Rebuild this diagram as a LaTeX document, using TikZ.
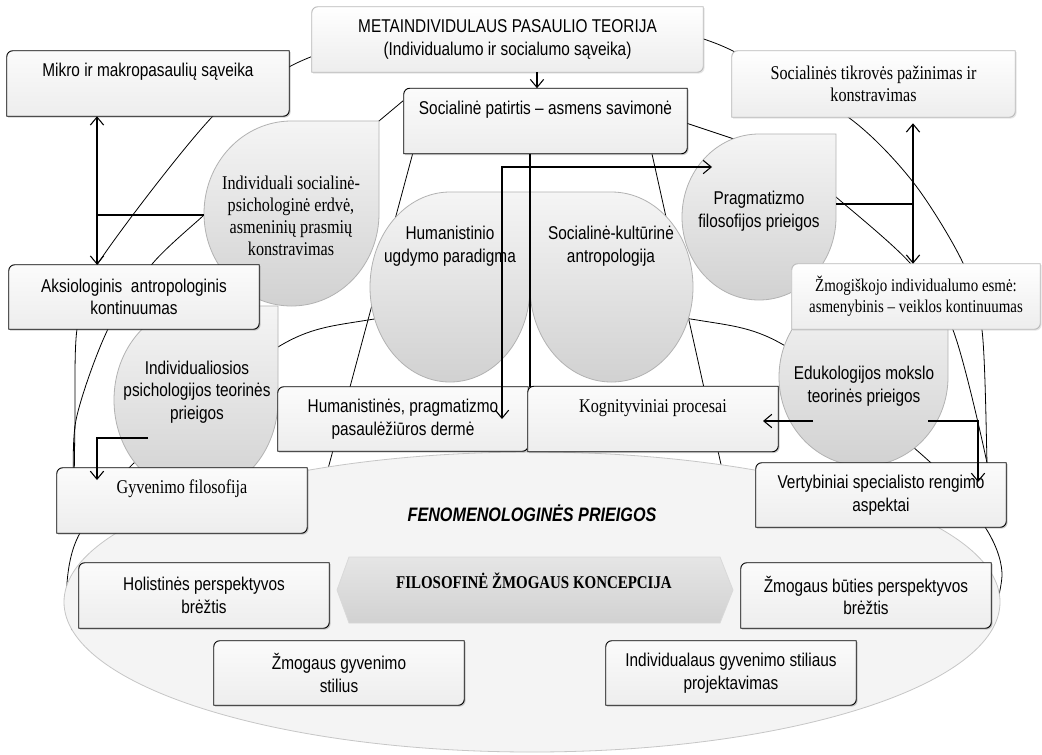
\documentclass[tikz,border=0pt]{standalone}
\usepackage{fontspec}
\usetikzlibrary{arrows.meta,shadows}
\newfontfamily\lsans[FakeStretch=0.83]{Liberation Sans}
\newfontfamily\lserif[FakeStretch=0.83]{Liberation Serif}
\pgfdeclarelayer{arcs}
\pgfdeclarelayer{shapes}
\pgfdeclarelayer{boxes}
\pgfsetlayers{arcs,shapes,boxes,main}

\tikzset{
  sanstext/.style={font=\lsans\fontsize{13.9}{17}\selectfont, align=center},
  seriftext/.style={font=\lserif\fontsize{14.6}{16.5}\selectfont, align=center},
  box/.style={minimum width=187.5pt, minimum height=48.75pt},
  topbox/.style={box, inner ysep=0pt, text height=19pt, text depth=29.75pt},
  dark box/.style={draw=black, line width=0.7pt, top color=gray!3, bottom color=gray!14,
    drop shadow={shadow xshift=1pt, shadow yshift=-1pt, opacity=0.4}},
  light box/.style={draw=gray!55, line width=0.7pt, top color=white, bottom color=gray!14,
    drop shadow={shadow xshift=1pt, shadow yshift=-1pt, opacity=0.2}},
  teardrop/.style={draw=gray!60, line width=0.6pt, top color=gray!8, bottom color=gray!36},
  bgline/.style={line width=0.6pt},
  joinline/.style={line width=0.8pt},
  link/.style={line width=0.8pt, -{Straight Barb[length=6pt,width=10pt]}},
  twoway/.style={line width=0.8pt, {Straight Barb[length=6pt,width=10pt]}-{Straight Barb[length=6pt,width=10pt]}},
}

\begin{document}
\begin{tikzpicture}[x=0.75pt, y=-0.75pt]
\useasboundingbox (0,0) rectangle (1042,754);

% boxes
\node[sanstext, box, minimum width=293.25pt] (teorija) at (507.5,39.5) {METAINDIVIDULAUS PASAULIO TEORIJA\\(Individualumo ir socialumo sąveika)};
\node[sanstext, topbox, minimum width=211.5pt] (mikro) at (148,83.5) {Mikro ir makropasaulių sąveika};
\node[sanstext, topbox, minimum width=212.25pt, text depth=29pt] (patirtis) at (545.5,121) {Socialinė patirtis – asmens savimonė};
\node[seriftext, box, minimum width=212.25pt, minimum height=49.5pt] (tikrove) at (873.5,84) {Socialinės tikrovės pažinimas ir\\konstravimas};
\node[sanstext, box, minimum height=48pt] (aksio) at (134,297) {Aksiologinis\ \ antropologinis\\kontinuumas};
\node[seriftext, box, minimum width=186pt, font=\lserif\fontsize{13.5}{16}\selectfont] (esme) at (916,296.5) {Žmogiškojo individualumo esmė:\\asmenybinis – veiklos kontinuumas};
\node[sanstext, box, minimum height=48pt] (derme) at (403,419) {Humanistinės, pragmatizmo\\pasaulėžiūros dermė};
\node[seriftext, topbox, text depth=29pt] (kognit) at (653,419) {Kognityviniai procesai};
\node[seriftext, topbox] (gyven) at (182,500.5) {Gyvenimo filosofija};
\node[sanstext, box, minimum height=48pt] (vertyb) at (881,495) {Vertybiniai specialisto rengimo\\aspektai};
\node[sanstext, box] (holist) at (204,595.5) {Holistinės perspektyvos\\brėžtis};
\node[sanstext, box] (butis) at (866,595.5) {Žmogaus būties perspektyvos\\brėžtis};
\node[sanstext, box, minimum height=48pt] (stilius) at (339,673) {Žmogaus gyvenimo\\stilius};
\node[sanstext, box, minimum height=48pt] (projekt) at (731,673) {Individualaus gyvenimo stiliaus\\projektavimas};

% texts of the round shapes
\node[seriftext] (erdve) at (291,216) {Individuali socialinė-\\psichologinė erdvė,\\asmeninių prasmių\\konstravimas};
\node[sanstext] (humanist) at (450,246) {Humanistinio\\ugdymo paradigma};
\node[sanstext] (antrop) at (611,246) {Socialinė-kultūrinė\\antropologija};
\node[sanstext] (pragmat) at (759,211) {Pragmatizmo\\filosofijos prieigos};
\node[sanstext] (psichol) at (197,392) {Individualiosios\\psichologijos teorinės\\prieigos};
\node[sanstext] (edukol) at (864,386) {Edukologijos mokslo\\teorinės prieigos};
\node[font=\lsans\bfseries\itshape\fontsize{14.6}{17}\selectfont] (fenomen) at (532,513) {FENOMENOLOGINĖS PRIEIGOS};
\node[font=\lserif\bfseries\fontsize{13.5}{16}\selectfont] (koncepcija) at (534,581) {FILOSOFINĖ ŽMOGAUS KONCEPCIJA};

\begin{pgfonlayer}{boxes}
\foreach \nm in {mikro,patirtis,aksio,derme,kognit,gyven,vertyb,holist,butis,stilius,projekt}
  \draw[dark box] (\nm.west) {[rounded corners=4.5pt] -- (\nm.north west) -- (\nm.north)} -- (\nm.north east) -- (\nm.east) {[rounded corners=4.5pt] -- (\nm.south east) -- (\nm.south)} -- (\nm.south west) -- cycle;
\foreach \nm in {teorija,tikrove,esme}
  \draw[light box] (\nm.west) {[rounded corners=4.5pt] -- (\nm.north west) -- (\nm.north)} -- (\nm.north east) -- (\nm.east) {[rounded corners=4.5pt] -- (\nm.south east) -- (\nm.south)} -- (\nm.south west) -- cycle;
\end{pgfonlayer}

\begin{pgfonlayer}{shapes}
\draw[line width=0.6pt, draw=gray!45, fill=gray!9] (532,602) ellipse [x radius=468, y radius=150];
\draw[teardrop] (379,121) -- (379,213.5) arc[start angle=0, end angle=270, x radius=87.5, y radius=92.5] -- cycle;
\draw[teardrop] (278,306) -- (278,400) arc[start angle=0, end angle=270, x radius=82, y radius=94] -- cycle;
\draw[teardrop] (530,192) -- (530,287) arc[start angle=0, end angle=270, x radius=80, y radius=95] -- cycle;
\draw[teardrop] (530,192) -- (611.5,192) arc[start angle=270, end angle=540, x radius=81.5, y radius=95] -- cycle;
\draw[teardrop] (836,134) -- (836,217) arc[start angle=0, end angle=270, x radius=77, y radius=83] -- cycle;
\draw[teardrop] (948,288) -- (948,377) arc[start angle=0, end angle=270, x radius=84.5, y radius=89] -- cycle;
\draw[line width=0.6pt, draw=gray!30, top color=gray!20, bottom color=gray!36] (337,590) -- (349,557) -- (720,557) -- (733,590) -- (720,623) -- (349,623) -- cycle;
\end{pgfonlayer}

\begin{pgfonlayer}{arcs}
\fill[white] (0,0) rectangle (1042,754);
\draw[bgline] plot[smooth] coordinates {(330,50) (289,67) (213,116) (97,265) (77,329) (75,420) (74,495)};
\draw[bgline] plot[smooth] coordinates {(216,203) (204,215) (153,263) (108,329) (76,420) (74,495)};
\draw[bgline] plot[smooth] coordinates {(690,35) (735,52) (848,117) (913,182) (963,263) (982,330) (987,463) (987,495)};
\draw[bgline] plot[smooth] coordinates {(825,189) (836,197) (910,263) (953,330) (987,463) (987,495)};
\draw[bgline] plot[smooth] coordinates {(72,630) (67,583) (80,533) (135,462) (278,347) (368,320) (532,305) (697,320) (787,347) (930,462) (985,527) (1002,573) (990,630)};
\draw[bgline] (415,145) -- (325,480);
\draw[bgline] (650,145) -- (724,478);
\draw[bgline] (410,95) -- (373,126);
\draw[bgline] (680,121) -- (740,141);
\end{pgfonlayer}

% arrows
\coordinate (ljoin) at (97,215);
\coordinate (rjoin) at (913,204);
\coordinate (pragin) at (712,167);
\coordinate (edleft) at (813,421);
\coordinate (edright) at (928,421);
\coordinate (psright) at (148,438);
\draw[link] (teorija.south -| 537,0) -- (537,0 |- patirtis.north);
\draw[twoway] (mikro.south -| ljoin) -- (aksio.north -| ljoin);
\draw[joinline] (ljoin) -- (204,215);
\draw[twoway, shorten <=4.5pt] (tikrove.south -| rjoin) -- (esme.north -| rjoin);
\draw[joinline] (836,204) -- (rjoin);
\draw[twoway] (pragin) -| (derme.center -| 502,0);
\draw[joinline] (patirtis.south -| 530,0) -- (derme.north -| 530,0);
\draw[link] (edleft) -- ++(-50,0);
\draw[link] (edright) -| (978,482);
\draw[link] (psright) -| (97,480);
\end{tikzpicture}
\end{document}
